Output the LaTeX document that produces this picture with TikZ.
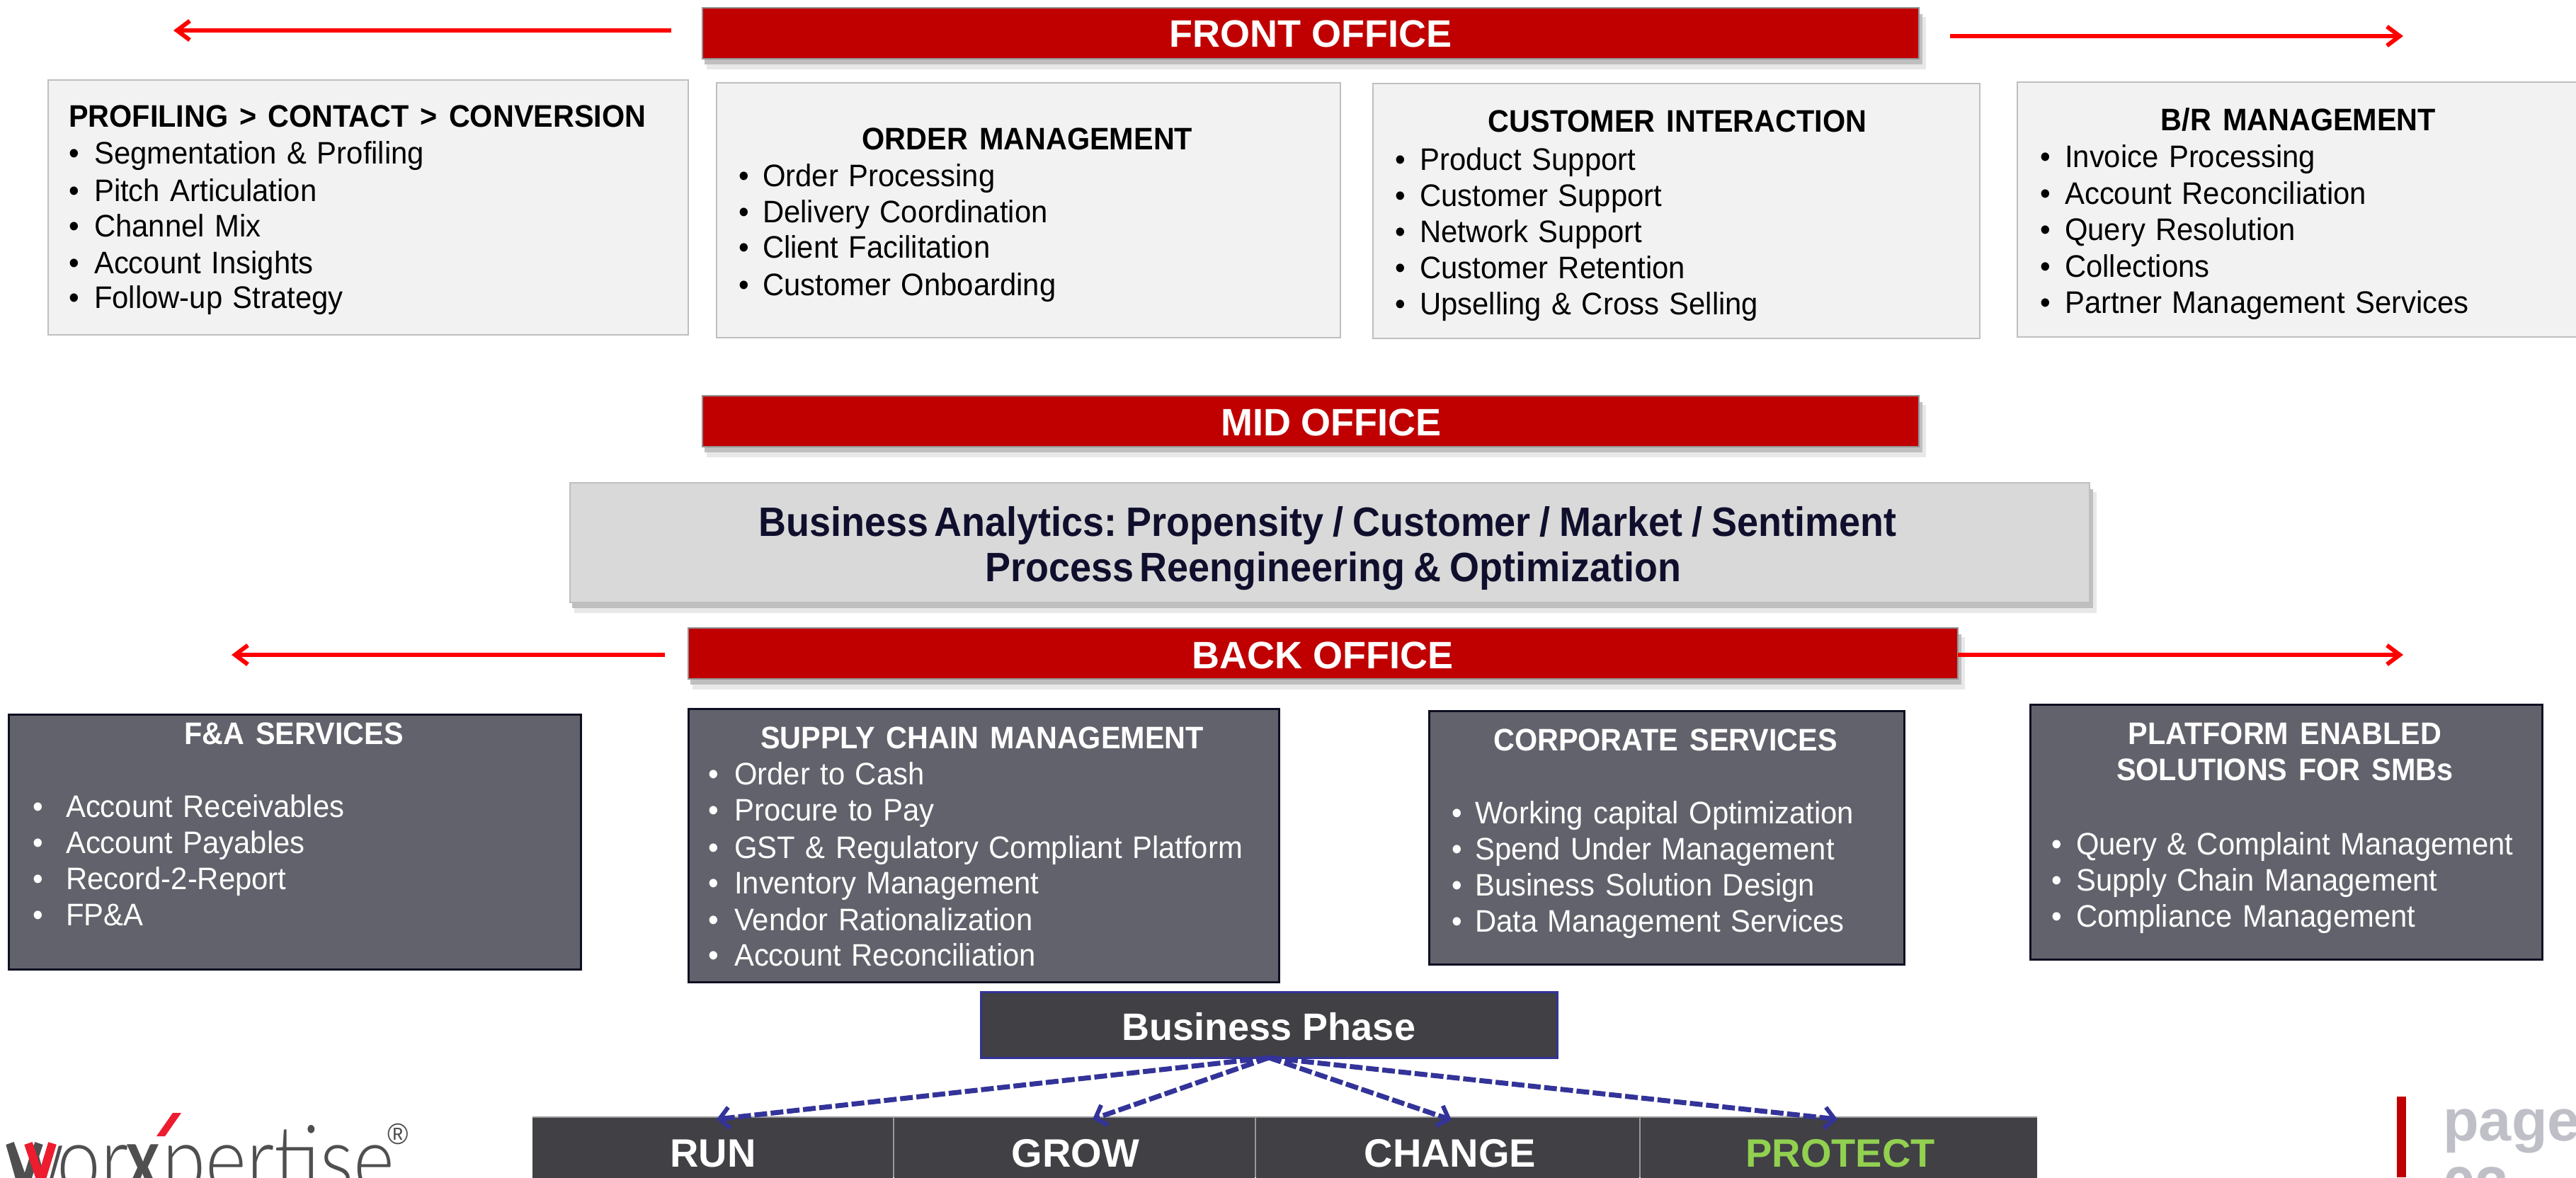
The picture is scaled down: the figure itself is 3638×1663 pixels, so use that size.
\documentclass[tikz,border=0pt]{standalone}
\usepackage{fontspec}
\setmainfont{Liberation Sans}[FakeStretch=0.95,WordSpace=1.25,BoldFeatures={FakeStretch=0.94,WordSpace=1.4}]
\newfontfamily\barfont{Liberation Sans}
\newfontfamily\anafont{Liberation Sans}[FakeStretch=0.93,WordSpace=0.55]
\newfontfamily\logofont{Lato Light}[FakeStretch=0.84]
\newfontfamily\logotailfont{Lato Light}[FakeStretch=0.84]
\newfontfamily\logoboldfont{Lato}[FakeStretch=0.68]
\usetikzlibrary{arrows.meta}
\definecolor{barred}{HTML}{C00000}
\definecolor{arrred}{HTML}{FF0000}
\definecolor{lightbox}{HTML}{F2F2F2}
\definecolor{lightedge}{HTML}{BFBFBF}
\definecolor{midbox}{HTML}{D9D9D9}
\definecolor{darkbox}{HTML}{62626C}
\definecolor{darkedge}{HTML}{0F0F23}
\definecolor{phasebox}{HTML}{404045}
\definecolor{phaseedge}{HTML}{333399}
\definecolor{navytext}{HTML}{0F0F2D}
\definecolor{greentext}{HTML}{92D050}
\definecolor{pagegrey}{HTML}{BFC0C7}
\definecolor{logogrey}{HTML}{4F4F4F}
\definecolor{logored}{HTML}{ED1C2E}
\tikzset{
  rect/.style={anchor=north west,inner sep=0pt,outer sep=0pt,rectangle},
  lightb/.style={rect,draw=lightedge,fill=lightbox,line width=2.5pt},
  darkb/.style={rect,draw=darkedge,fill=darkbox,line width=3pt},
  redbar/.style={rect,draw=gray!85,fill=barred,line width=2.5pt},
  bartext/.style={text=white,inner sep=0pt,font=\fontsize{54}{60}\selectfont\barfont\bfseries},
  blackitem/.style={anchor=base west,inner sep=0pt,text=black,font=\fontsize{44}{51}\selectfont},
  whiteitem/.style={anchor=base west,inner sep=0pt,text=white,font=\fontsize{44}{51}\selectfont},
  blacktitle/.style={anchor=base,inner sep=0pt,text=black,font=\fontsize{44}{51}\selectfont\bfseries},
  whitetitle/.style={anchor=base,inner sep=0pt,text=white,font=\fontsize{44}{51}\selectfont\bfseries},
  anatext/.style={text=navytext,inner sep=0pt,font=\fontsize{58}{64}\selectfont\anafont\bfseries},
  redarrow/.style={draw=arrred,line width=6pt,-{Straight Barb[length=18pt,width=27pt,line width=6pt]}},
  phasearrow/.style={draw=phaseedge,line width=7pt,dash pattern=on 18pt off 5pt,-{Straight Barb[length=14pt,width=30pt,line width=6pt]}},
  phasetext/.style={text=white,inner sep=0pt,font=\fontsize{56}{60}\selectfont\barfont\bfseries},
  logotext/.style={anchor=base west,inner sep=0pt,text=logogrey,font=\fontsize{132}{132}\selectfont\logofont},
  logotail/.style={anchor=base west,inner sep=0pt,text=logogrey,font=\fontsize{132}{132}\selectfont\logotailfont},
  logobold/.style={anchor=base west,inner sep=0pt,text=logogrey,font=\fontsize{132}{132}\selectfont\logoboldfont\bfseries},
  softfar/.style={fill=black!9},
  softnear/.style={fill=black!25},
}
\newcommand{\itemlist}[5]{%
  \foreach \yy/\txt in {#5}
    \node[#1] (#2-\yy) at (#3,\yy+1) {\makebox[#4][l]{\textbullet}\txt};}
\newcommand{\sizedbox}[6]{%
  \node[#2,minimum width=#5pt-#3pt,minimum height=#6pt-#4pt] (#1) at (#3,#4) {};}
\newcommand{\sep}{\hspace{13pt}/\hspace{13pt}}
\begin{document}
\begin{tikzpicture}[x=1pt,y=-1pt]
\useasboundingbox (0,0) rectangle (3638,1663);
\clip (0,0) rectangle (3638,1663);

% shadows
\fill[softfar] (998,24) rectangle (2720,98);
\fill[softnear] (995,20) rectangle (2715,91);
\fill[softfar] (998,572) rectangle (2720,646);
\fill[softnear] (995,568) rectangle (2715,639);
\fill[softfar] (811,695) rectangle (2961,866);
\fill[softnear] (808,691) rectangle (2956,859);
\fill[softfar] (978,900) rectangle (2775,974);
\fill[softnear] (975,896) rectangle (2770,967);

% office bars
\sizedbox{front}{redbar}{992}{11}{2710}{83}
\node[bartext] (frontt) at (1851,48) {FRONT OFFICE};
\sizedbox{mid}{redbar}{992}{559}{2710}{631}
\node[bartext] (midt) at (1880,597) {MID OFFICE};
\sizedbox{back}{redbar}{972}{887}{2765}{959}
\node[bartext] (backt) at (1868,926) {BACK OFFICE};

% red arrows
\coordinate (fl0) at (948,43);  \coordinate (fl1) at (245,43);
\coordinate (fr0) at (2754,51); \coordinate (fr1) at (3394,51);
\coordinate (bl0) at (939,925); \coordinate (bl1) at (327,925);
\coordinate (br0) at (back.east |- bl0); \coordinate (br1) at (3394,925);
\draw[redarrow] (fl0) -- (fl1);
\draw[redarrow] (fr0) -- (fr1);
\draw[redarrow] (bl0) -- (bl1);
\draw[redarrow] (br0) -- (br1);

% front office boxes
\sizedbox{bA}{lightb}{68}{113}{972}{473}
\node[blacktitle,anchor=base west] (bAt) at (97,179) {PROFILING\ > CONTACT > CONVERSION};
\itemlist{blackitem}{bA}{97}{36pt}{230/Segmentation \& Profiling,283/Pitch Articulation,333/Channel Mix,385/Account Insights,434/Follow-up Strategy}

\sizedbox{bB}{lightb}{1012}{117}{1893}{477}
\node[blacktitle] (bBt) at (1451,211) {ORDER MANAGEMENT};
\itemlist{blackitem}{bB}{1043}{34pt}{262/Order Processing,313/Delivery Coordination,363/Client Facilitation,416/Customer Onboarding}

\sizedbox{bC}{lightb}{1939}{118}{2796}{478}
\node[blacktitle] (bCt) at (2369,186) {CUSTOMER INTERACTION};
\itemlist{blackitem}{bC}{1970}{35pt}{239/Product Support,290/Customer Support,341/Network Support,392/Customer Retention,443/Upselling \& Cross Selling}

\sizedbox{bD}{lightb}{2849}{116}{3660}{476}
\node[blacktitle] (bDt) at (3246,184) {B/R MANAGEMENT};
\itemlist{blackitem}{bD}{2881}{35pt}{235/Invoice Processing,287/Account Reconciliation,338/Query Resolution,390/Collections,441/Partner Management Services}

% mid office analytics
\sizedbox{anal}{rect,draw=lightedge,fill=midbox,line width=2.5pt}{805}{682}{2951}{851}
\node[anatext] (analt1) at (1875,742) {Business Analytics: Propensity\sep Customer\sep Market\sep Sentiment};
\node[anatext] (analt2) at (1883,807) {Process Reengineering\hspace{12pt}\&\hspace{12pt}Optimization};

% back office boxes
\sizedbox{dA}{darkb}{12}{1009}{820}{1369}
\node[whitetitle] (dAt) at (415,1051) {F\&A SERVICES};
\itemlist{whiteitem}{dA}{46}{47pt}{1153/Account Receivables,1204/Account Payables,1255/Record-2-Report,1306/FP\&A}

\sizedbox{dB}{darkb}{972}{1001}{1806}{1387}
\node[whitetitle] (dBt) at (1387,1057) {SUPPLY CHAIN MANAGEMENT};
\itemlist{whiteitem}{dB}{1000}{37pt}{1107/Order to Cash,1158/Procure to Pay,1211/GST \& Regulatory Compliant Platform,1261/Inventory Management,1313/Vendor Rationalization,1363/Account Reconciliation}

\sizedbox{dC}{darkb}{2018}{1004}{2689}{1362}
\node[whitetitle] (dCt) at (2352,1060) {CORPORATE SERVICES};
\itemlist{whiteitem}{dC}{2050}{33pt}{1162/Working capital Optimization,1213/Spend Under Management,1264/Business Solution Design,1315/Data Management Services}

\sizedbox{dD}{darkb}{2867}{995}{3590}{1355}
\node[whitetitle] (dDt1) at (3227,1051) {PLATFORM ENABLED};
\node[whitetitle] (dDt2) at (3227,1102) {SOLUTIONS FOR SMBs};
\itemlist{whiteitem}{dD}{2897}{35pt}{1206/Query \& Complaint Management,1257/Supply Chain Management,1308/Compliance Management}

% business phase
\sizedbox{phase}{rect,draw=phaseedge,fill=phasebox,line width=3pt}{1385}{1401}{2199}{1494}
\node[bartext] (phaset) at (1792,1450) {Business Phase};

\fill[gray!80] (752,1577) rectangle (2877,1663);
\sizedbox{pRun}{rect,fill=phasebox}{752}{1579}{1261}{1680}
\sizedbox{pGrow}{rect,fill=phasebox}{1263}{1579}{1772}{1680}
\sizedbox{pChange}{rect,fill=phasebox}{1774}{1579}{2315}{1680}
\sizedbox{pProtect}{rect,fill=phasebox}{2317}{1579}{2877}{1680}
\node[phasetext] (runt) at (1007,1629) {RUN};
\node[phasetext] (growt) at (1519,1629) {GROW};
\node[phasetext] (changet) at (2048,1629) {CHANGE};
\node[phasetext,text=greentext] (protectt) at (2599,1629) {PROTECT};

\coordinate (tRun) at (1012,1581);
\coordinate (tGrow) at (1543,1581);
\coordinate (tChange) at (2050,1582);
\coordinate (tProtect) at (2595,1581);
\draw[phasearrow] (phase.south) -- (tRun);
\draw[phasearrow] (phase.south) -- (tGrow);
\draw[phasearrow] (phase.south) -- (tChange);
\draw[phasearrow] (phase.south) -- (tProtect);

% logo
\node[logotext] (logoW) at (6,1684) {w};
\node[logotext] (logoOr) at (80,1684) {or};
\node[logobold] (logoX) at (178,1684) {x};
\node[logotail] (logoP) at (229,1684) {pertise};
\draw[logogrey,line width=12pt] (14,1615) -- (35,1675) -- (55,1615);
\draw[logored,line width=12pt] (40,1615) -- (58,1668) -- (74,1615);
\fill[logored] (244,1572) -- (256,1572) -- (233,1605) -- (221,1605) -- cycle;
\node[anchor=center,inner sep=0pt,text=logogrey,font=\fontsize{42}{42}\selectfont] (reg) at (562,1602) {\textregistered};

% page mark
\fill[barred] (3385,1549) rectangle (3398,1663);
\node[anchor=base west,inner sep=0pt,text=pagegrey,font=\fontsize{83}{90}\selectfont\barfont\bfseries] (pg) at (3450,1611) {page};
\node[anchor=base west,inner sep=0pt,text=pagegrey,font=\fontsize{83}{90}\selectfont\barfont\bfseries] (pgn) at (3450,1706) {03};
\end{tikzpicture}
\end{document}
